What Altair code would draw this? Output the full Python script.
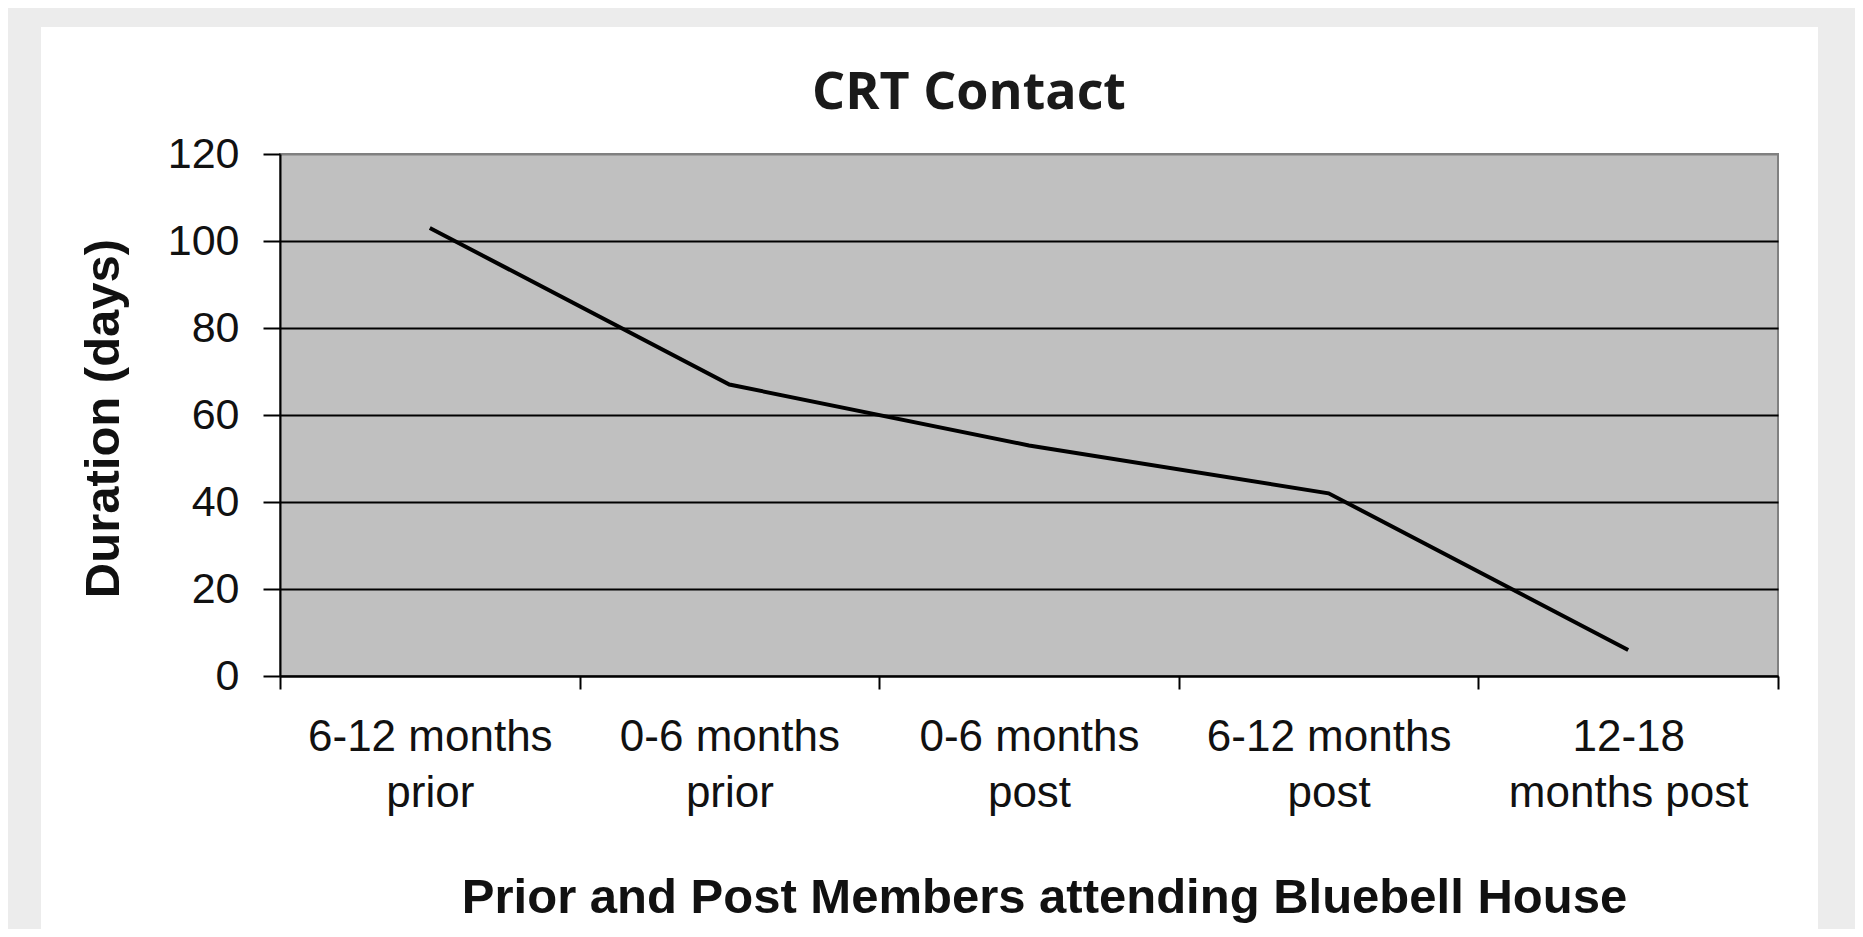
import altair as alt
import pandas as pd

# ---- data ----
categories = ["6-12 months prior", "0-6 months prior", "0-6 months post",
              "6-12 months post", "12-18 months post"]
label_line1 = ["6-12 months", "0-6 months", "0-6 months", "6-12 months", "12-18"]
label_line2 = ["prior", "prior", "post", "post", "months post"]
duration = [103, 67, 53, 42, 6]
y_ticks = [0, 20, 40, 60, 80, 100, 120]
chart_title = "CRT Contact"

df = pd.DataFrame({"period": categories, "duration": duration})
one = pd.DataFrame({"title": [chart_title]})

label_map = "{" + ", ".join(
    f"'{c}': ['{a}', '{b}']" for c, a, b in zip(categories, label_line1, label_line2)
) + "}"
label_expr = f"{label_map}[datum.value]"

W, H = 1498, 522
FONT = "Liberation Sans"

card = alt.Chart(one).mark_rect(fill="white").encode(
    x=alt.value(-239), x2=alt.value(1538), y=alt.value(-127), y2=alt.value(820)
)
plot_bg = alt.Chart(one).mark_rect(fill="#C0C0C0", stroke="#808080", strokeWidth=2).encode(
    x=alt.value(0), x2=alt.value(W), y=alt.value(0), y2=alt.value(H)
)
title = alt.Chart(one).mark_text(
    font="Open Sans", fontSize=52, fontWeight="bold", color="#1a1a1a",
    align="center", baseline="alphabetic",
).encode(text="title:N", x=alt.value(689), y=alt.value(-45))

line = alt.Chart(df).mark_line(color="black", strokeWidth=4).encode(
    x=alt.X(
        "period:N",
        sort=categories,
        bandPosition=0.5,
        scale=alt.Scale(type="band", paddingInner=0, paddingOuter=0),
        axis=alt.Axis(
            title="Prior and Post Members attending Bluebell House",
            titleFont=FONT, titleFontSize=49, titleFontWeight="bold", titleColor="#111111",
            titleX=764, titleY=221, titleAlign="center", titleBaseline="middle",
            labelExpr=label_expr, labelAngle=0, labelFont=FONT, labelFontSize=44,
            labelLineHeight=56, labelBaseline="top", labelPadding=26, labelColor="#111111",
            labelLimit=0, labelOverlap=False, labelBound=False,
            tickBand="extent", tickSize=13, tickWidth=2, tickColor="black",
            domainColor="black", domainWidth=2, grid=False, zindex=1,
        ),
    ),
    y=alt.Y(
        "duration:Q",
        scale=alt.Scale(domain=[0, 120], nice=False, zero=True),
        axis=alt.Axis(
            values=y_ticks,
            title="Duration (days)",
            titleFont=FONT, titleFontSize=49, titleFontWeight="bold", titleColor="#111111",
            titleX=-177, titleY=264, titleAngle=-90, titleAlign="center", titleBaseline="middle",
            labelFont=FONT, labelFontSize=43, labelColor="#111111", labelPadding=24,
            tickSize=17, tickWidth=2, tickColor="black",
            domainColor="black", domainWidth=2,
            grid=True, gridWidth=2,
            gridColor={"condition": {"test": "datum.value === 120", "value": "#808080"},
                       "value": "black"},
            zindex=1,
        ),
    ),
)

chart = alt.layer(card, plot_bg, line, title).properties(
    width=W,
    height=H,
    background="#ececec",
    autosize=alt.AutoSizeParams(type="none"),
    padding={"left": 272, "top": 146, "right": 77, "bottom": 253},
).configure_view(stroke=None)

chart.save("out.html", embed_options={"renderer": "svg", "actions": False})
